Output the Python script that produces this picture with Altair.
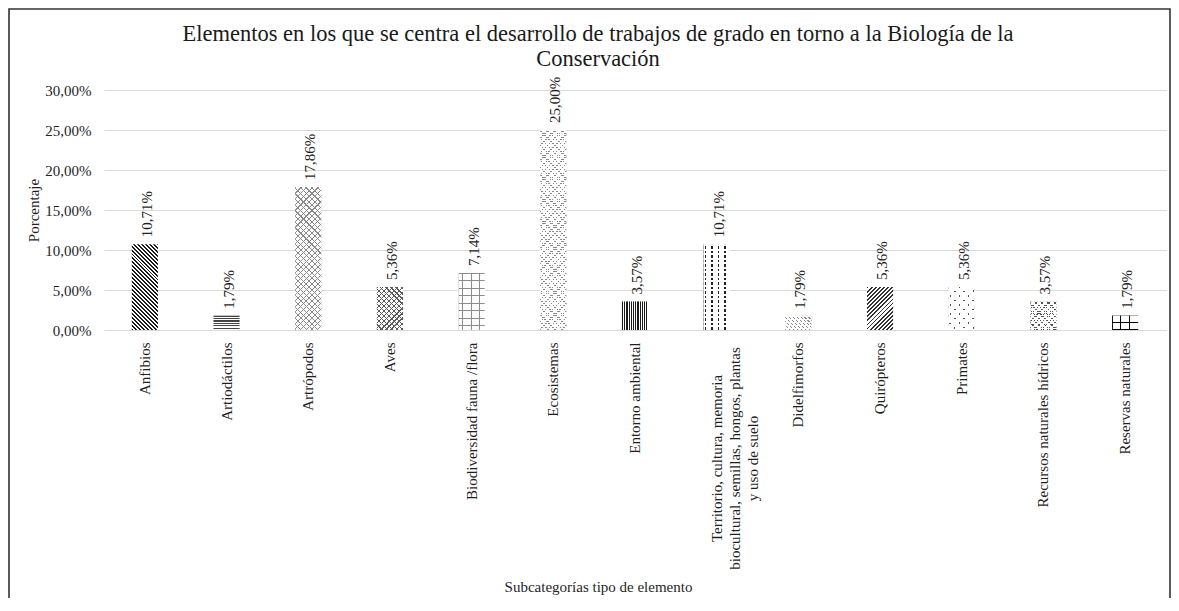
import math
import json
import altair as alt
import pandas as pd

# ---------------- data ----------------
categories = [
    "Anfibios",
    "Artiodáctilos",
    "Artrópodos",
    "Aves",
    "Biodiversidad fauna /flora",
    "Ecosistemas",
    "Entorno ambiental",
    "Territorio, cultura, memoria biocultural, semillas, hongos, plantas y uso de suelo",
    "Didelfimorfos",
    "Quirópteros",
    "Primates",
    "Recursos naturales hídricos",
    "Reservas naturales",
]
percentages = [10.71, 1.79, 17.86, 5.36, 7.14, 25.00, 3.57, 10.71, 1.79, 5.36, 5.36, 3.57, 1.79]
y_ticks = [0, 5, 10, 15, 20, 25, 30]
title_lines = [
    "Elementos en los que se centra el desarrollo de trabajos de grado en torno a la Biología de la",
    "Conservación",
]
territorio_lines = [
    "Territorio, cultura, memoria",
    "biocultural, semillas, hongos, plantas",
    "y uso de suelo",
]
x_title = "Subcategorías tipo de elemento"
y_title = "Porcentaje"

# ---------------- layout / style ----------------
FONT = "Liberation Serif"
TXT = "#1f1f1f"
PAD_L, PAD_T, PAD_R, PAD_B = 96, 82, 5, 268
W, H = 1062, 240
Y_MAX = 30
BAND_PAD = 0.68
BAR_W = W / len(categories) * (1 - BAND_PAD)
CLEAR = "rgba(255,255,255,0)"

df = pd.DataFrame({"cat": categories, "pct": percentages, "idx": list(range(len(categories)))})


def stripes(h, angle, period, duty, color, bg=CLEAR, phase=0.0, w=BAR_W):
    """Striped linear gradient for a bar of w x h pixels (pattern fill)."""
    a = math.radians(angle)
    gx, gy = math.cos(a), math.sin(a)
    if abs(gx) < 1e-9:
        gx = 0.0
    if abs(gy) < 1e-9:
        gy = 0.0
    corners = [(0.0, 0.0), (w, 0.0), (0.0, h), (w, h)]
    ps = [x * gx + y * gy for x, y in corners]
    pmin, pmax = min(ps), max(ps)
    cx, cy = corners[ps.index(pmin)]
    L = pmax - pmin
    k = L / (gx * gx * w * w + gy * gy * h * h)
    u1, v1 = cx / w, cy / h
    x2, y2 = u1 + k * gx * w, v1 + k * gy * h
    stops = []

    def add(off, col):
        off = min(max(off, 0.0), 1.0)
        stops.append(alt.GradientStop(offset=round(off, 5), color=col))

    s = (phase % period) - period
    while s < L:
        e = s + duty * period
        n = s + period
        add(s / L, color)
        add(e / L, color)
        add(e / L, bg)
        add(n / L, bg)
        s = n
    return alt.LinearGradient(
        gradient="linear", stops=stops,
        x1=round(u1, 5), y1=round(v1, 5), x2=round(x2, 5), y2=round(y2, 5),
    )


def patterns(i, h):
    if i == 0:   # Anfibios: dark downward diagonal
        return [stripes(h, -45, 2.8, 0.5, "#1a1a1a")]
    if i == 1:   # Artiodáctilos: horizontal lines
        return [stripes(h, 90, 2.4, 0.5, "#444444")]
    if i == 2:   # Artrópodos: light zigzag
        return [stripes(h, 45, 4.0, 0.2, "#8a8a8a"), stripes(h, -45, 4.0, 0.2, "#8a8a8a")]
    if i == 3:   # Aves: medium shingle
        return [stripes(h, 45, 3.6, 0.25, "#5a5a5a"), stripes(h, -45, 3.6, 0.25, "#5a5a5a")]
    if i == 4:   # Biodiversidad: light dashed grid
        return [stripes(h, 0, BAR_W / 3, 0.1, "#8c8c8c", phase=3.5),
                stripes(h, 90, 7.5, 0.12, "#8c8c8c"),
                stripes(h, 0, 2.0, 0.35, "white")]
    if i == 5:   # Ecosistemas: light dotted diamonds
        return [stripes(h, 45, 5.2, 0.2, "#8a8a8a"), stripes(h, -45, 5.2, 0.2, "#8a8a8a"),
                stripes(h, 90, 2.0, 0.4, "white")]
    if i == 6:   # Entorno ambiental: vertical lines
        return [stripes(h, 0, 2.2, 0.55, "#1a1a1a")]
    if i == 7:   # Territorio: dashed vertical
        return [stripes(h, 0, 6.5, 0.22, "#222222", phase=1.0),
                stripes(h, 90, 4.5, 0.4, "white")]
    if i == 8:   # Didelfimorfos: light diagonal
        return [stripes(h, -45, 2.8, 0.4, "#8a8a8a"), stripes(h, 90, 3.0, 0.3, "white")]
    if i == 9:   # Quirópteros: upward diagonal
        return [stripes(h, 45, 2.9, 0.45, "#333333")]
    if i == 10:  # Primates: sparse dots
        return [stripes(h, 45, 6.5, 0.22, "#555555"), stripes(h, -45, 6.5, 0.78, "white")]
    if i == 11:  # Recursos: dotted crosshatch
        return [stripes(h, 45, 4.5, 0.2, "#555555"), stripes(h, -45, 4.5, 0.2, "#555555"),
                stripes(h, 90, 2.2, 0.45, "white")]
    # Reservas: black grid
    return [stripes(h, 0, BAR_W / 3, 0.12, "#000000", phase=-0.6),
            stripes(h, 90, h / 2, 0.16, "#000000", phase=-0.6)]


terr_test = "datum.value == " + json.dumps(categories[7])

x_axis = alt.Axis(
    title=x_title,
    labelAngle=270,
    labelAlign={"condition": {"test": terr_test, "value": "center"}, "value": "right"},
    labelBaseline="middle",
    labelPadding={"condition": {"test": terr_test, "value": 128}, "value": 12},
    labelExpr=f"{terr_test} ? {json.dumps(territorio_lines)} : datum.value",
    labelLimit=400,
    labelLineHeight=18,
    labelFont=FONT, labelFontSize=15, labelColor=TXT,
    domain=False, ticks=False, grid=False,
    titleFont=FONT, titleFontSize=15, titleFontWeight="normal", titleColor=TXT,
    titleX=494, titleY=256, titleAlign="center", titleBaseline="middle", titleAngle=0,
)
y_axis = alt.Axis(
    title=y_title,
    values=y_ticks,
    labelExpr="replace(format(datum.value / 100, '.2%'), '.', ',')",
    domain=False, ticks=False, grid=True, gridColor="#d9d9d9", gridWidth=1.2,
    labelPadding=13, labelFont=FONT, labelFontSize=15, labelColor=TXT,
    titleFont=FONT, titleFontSize=15, titleFontWeight="normal", titleColor=TXT,
    titleX=-71, titleY=120, titleAngle=270, titleAlign="center", titleBaseline="middle",
)

x_enc = alt.X("cat:N", sort=categories,
              scale=alt.Scale(domain=categories, paddingInner=BAND_PAD, paddingOuter=BAND_PAD / 2),
              axis=x_axis)
y_enc = alt.Y("pct:Q", scale=alt.Scale(domain=[0, Y_MAX], nice=False), axis=y_axis)

border = alt.Chart(pd.DataFrame({"a": [0]})).mark_rect(
    fillOpacity=0, stroke="#333333", strokeWidth=1.6
).encode(
    x=alt.value(-PAD_L + 1), x2=alt.value(W + PAD_R - 1),
    y=alt.value(-PAD_T + 1), y2=alt.value(H + PAD_B + 20),
)

title = alt.Chart(pd.DataFrame({"t": ["\n".join(title_lines)]})).mark_text(
    align="center", baseline="alphabetic", lineBreak="\n", lineHeight=25,
    font=FONT, fontSize=22.5, color="#1a1a1a",
).encode(x=alt.value(494), y=alt.value(-49), text="t:N")

base = alt.Chart(df).mark_bar(fill="white").encode(x=x_enc, y=y_enc)

layers = [border, title, base]
for i, v in enumerate(percentages):
    h = v / Y_MAX * H
    for grad in patterns(i, h):
        layers.append(
            alt.Chart(df).transform_filter(alt.datum.idx == i)
            .mark_bar(fill=grad).encode(x=x_enc, y=y_enc)
        )

labels = alt.Chart(df).transform_calculate(
    lbl="replace(format(datum.pct / 100, '.2%'), '.', ',')"
).mark_text(
    angle=270, align="left", baseline="middle", dx=7, dy=2,
    font=FONT, fontSize=15, color=TXT,
).encode(x=x_enc, y=y_enc, text="lbl:N")
layers.append(labels)

chart = alt.layer(*layers).properties(
    width=W, height=H,
    autosize=alt.AutoSizeParams(type="none"),
    padding={"left": PAD_L, "top": PAD_T, "right": PAD_R, "bottom": PAD_B},
).configure_view(stroke="transparent")

chart.save("out.html", embed_options={"renderer": "svg", "actions": False})
